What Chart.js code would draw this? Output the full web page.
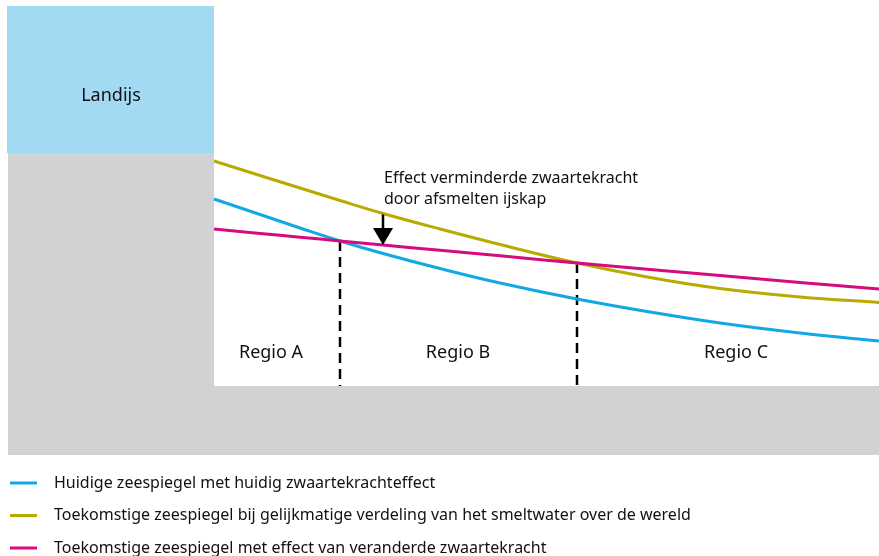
<!DOCTYPE html>
<html>
<head>
<meta charset="utf-8">
<script src="https://cdn.jsdelivr.net/npm/chart.js@4/dist/chart.umd.min.js"></script>
<style>
html,body{margin:0;padding:0;background:#fff;}
#wrap{width:879px;height:556px;position:relative;}
</style>
</head>
<body>
<div id="wrap"><canvas id="c" width="879" height="556"></canvas></div>
<script>
// ---- data (distance along coast, relative height) ----
const xDist = [214, 260, 300, 340, 383, 440, 500, 577, 650, 720, 800, 879];
const huidig = [261, 245.5, 232, 219, 206.5, 191.5, 177, 161, 148, 137, 127, 119];
const gelijkmatig = [299, 284.5, 272, 259.5, 246.5, 231, 215.5, 197, 182.5, 171.5, 163, 157.5];
const zwaartekracht = [231, 226.6, 222.8, 219, 215, 209.7, 204.2, 197, 190.5, 184.4, 177.6, 171];
const seriesLabels = [
  'Huidige zeespiegel met huidig zwaartekrachteffect',
  'Toekomstige zeespiegel bij gelijkmatige verdeling van het smeltwater over de wereld',
  'Toekomstige zeespiegel met effect van veranderde zwaartekracht'
];
const seriesColors = ['#12a8e3', '#b8ab00', '#d50b7e'];
const landX = [8, 214, 214, 879];
const landY = [307, 307, 74, 74];
const landBase = 5;
const iceX = [7, 214];
const iceTop = 454;
const iceBase = 307;
const regionBounds = [340, 577];
const regionLabels = ['Regio A', 'Regio B', 'Regio C'];
const iceLabel = 'Landijs';
const arrowX = 383;
const annotationLines = ['Effect verminderde zwaartekracht', 'door afsmelten ijskap'];

const FONT = '"Noto Sans", "Open Sans", sans-serif';

function pts(xs, ys) { return xs.map((x, i) => ({x: x, y: ys[i]})); }
function valAt(arr, x) { const i = xDist.indexOf(x); return arr[i]; }

const curveDatasets = [huidig, gelijkmatig, zwaartekracht].map((arr, i) => ({
  label: seriesLabels[i],
  data: pts(xDist, arr),
  borderColor: seriesColors[i],
  borderWidth: 3,
  pointRadius: 0,
  tension: 0.4,
  fill: false,
  order: [3, 2, 1][i]
}));

const regionDatasets = regionBounds.map(b => ({
  label: 'grens',
  data: [{x: b, y: valAt(zwaartekracht, b)}, {x: b, y: landY[2]}],
  borderColor: '#000',
  borderWidth: 2.5,
  borderDash: [10, 6],
  pointRadius: 0,
  fill: false,
  order: 5
}));

const datasets = [
  ...curveDatasets,
  ...regionDatasets,
  {
    label: 'land',
    data: pts(landX, landY),
    borderWidth: 0,
    borderColor: 'rgba(0,0,0,0)',
    backgroundColor: '#d1d2d4',
    pointRadius: 0,
    tension: 0,
    fill: {value: landBase},
    order: 20
  },
  {
    label: 'ijs',
    data: pts(iceX, [iceTop, iceTop]),
    borderWidth: 0,
    borderColor: 'rgba(0,0,0,0)',
    backgroundColor: '#a3daf3',
    pointRadius: 0,
    tension: 0,
    fill: {value: iceBase},
    order: 21
  }
];

const decor = {
  id: 'decor',
  afterDatasetsDraw(chart) {
    const ctx = chart.ctx;
    const xs = chart.scales.x, ys = chart.scales.y;
    ctx.save();
    // arrow
    const ax = xs.getPixelForValue(arrowX);
    const yTop = ys.getPixelForValue(valAt(gelijkmatig, arrowX)) + 1;
    const yTip = ys.getPixelForValue(valAt(zwaartekracht, arrowX));
    const headH = 17, headW = 10;
    ctx.strokeStyle = '#000';
    ctx.lineWidth = 2.5;
    ctx.beginPath();
    ctx.moveTo(ax, yTop);
    ctx.lineTo(ax, yTip - headH + 1);
    ctx.stroke();
    ctx.fillStyle = '#000';
    ctx.beginPath();
    ctx.moveTo(ax - headW, yTip - headH);
    ctx.lineTo(ax + headW, yTip - headH);
    ctx.lineTo(ax, yTip);
    ctx.closePath();
    ctx.fill();

    // texts
    ctx.fillStyle = '#111';
    ctx.textBaseline = 'middle';
    ctx.font = '18px ' + FONT;
    ctx.textAlign = 'center';
    ctx.fillText(iceLabel, xs.getPixelForValue(111), 96);
    const regionCenters = [271, 458, 736];
    regionLabels.forEach((t, i) => ctx.fillText(t, xs.getPixelForValue(regionCenters[i]), 353));
    ctx.font = '16px ' + FONT;
    ctx.textAlign = 'left';
    annotationLines.forEach((t, i) => ctx.fillText(t, ax + 1, 178 + i * 21));

    // legend
    ctx.font = '16px ' + FONT;
    seriesLabels.forEach((t, i) => {
      const y = 483 + i * 32.5;
      ctx.strokeStyle = seriesColors[i];
      ctx.lineWidth = 3;
      ctx.beginPath();
      ctx.moveTo(10, y);
      ctx.lineTo(37, y);
      ctx.stroke();
      ctx.fillStyle = '#111';
      ctx.fillText(t, 54, y);
    });
    ctx.restore();
  }
};

new Chart(document.getElementById('c'), {
  type: 'line',
  data: {datasets},
  options: {
    responsive: false,
    animation: false,
    devicePixelRatio: 1,
    layout: {padding: {left: 0, right: 0, top: 0, bottom: 96}},
    scales: {
      x: {type: 'linear', min: 0, max: 879, display: false},
      y: {type: 'linear', min: 0, max: 460, display: false}
    },
    plugins: {legend: {display: false}, tooltip: {enabled: false}},
    elements: {line: {borderCapStyle: 'butt'}}
  },
  plugins: [decor]
});
</script>
</body>
</html>
